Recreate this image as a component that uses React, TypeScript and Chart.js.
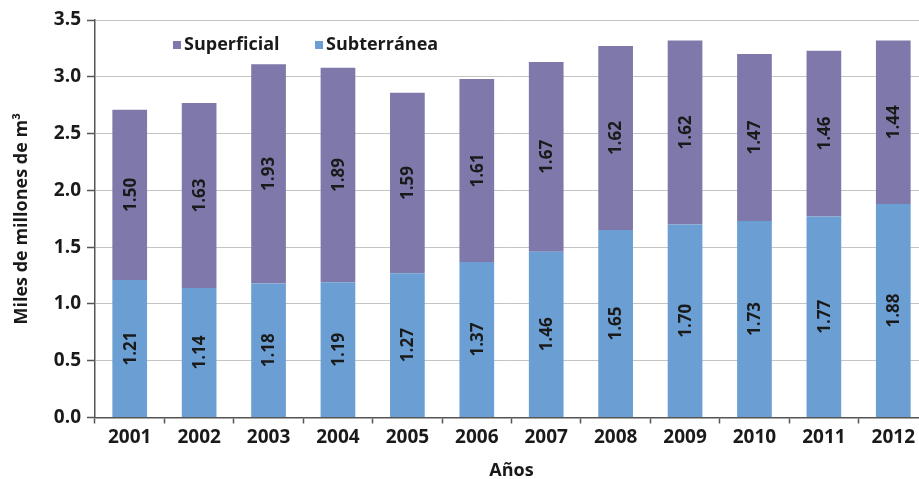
import React, { useEffect, useRef } from "react";
import { Chart, registerables } from "chart.js";

Chart.register(...registerables);

const years = ["2001", "2002", "2003", "2004", "2005", "2006", "2007", "2008", "2009", "2010", "2011", "2012"];
const subterranea = [1.21, 1.14, 1.18, 1.19, 1.27, 1.37, 1.46, 1.65, 1.7, 1.73, 1.77, 1.88];
const superficial = [1.5, 1.63, 1.93, 1.89, 1.59, 1.61, 1.67, 1.62, 1.62, 1.47, 1.46, 1.44];
const seriesNames = ["Subterránea", "Superficial"];
const yTitle = "Miles de millones de m³";
const xTitle = "Años";

const BLUE = "#6b9fd3";
const PURPLE = "#7e79aa";
const FONT = "'Open Sans', 'Noto Sans', sans-serif";
const TEXT = "#1a1a1a";
const AXIS = "#555555";

const dataLabelsPlugin = {
  id: "dataLabels",
  afterDatasetsDraw(chart: any) {
    const ctx = chart.ctx;
    ctx.save();
    ctx.font = `bold 17px ${FONT}`;
    ctx.fillStyle = TEXT;
    ctx.textAlign = "center";
    ctx.textBaseline = "middle";
    chart.data.datasets.forEach((ds: any, di: number) => {
      const meta = chart.getDatasetMeta(di);
      meta.data.forEach((bar: any, i: number) => {
        const cy = (bar.y + bar.base) / 2;
        ctx.save();
        ctx.translate(bar.x, cy);
        ctx.rotate(-Math.PI / 2);
        ctx.fillText(Number(ds.data[i]).toFixed(2), 0, 1);
        ctx.restore();
      });
    });
    ctx.restore();
  },
};

const legendPlugin = {
  id: "customLegend",
  afterDraw(chart: any) {
    const ctx = chart.ctx;
    const area = chart.chartArea;
    const items = [...chart.data.datasets].reverse();
    ctx.save();
    ctx.font = `bold 18px ${FONT}`;
    ctx.textBaseline = "middle";
    ctx.textAlign = "left";
    let x = area.left + 78;
    const y = area.top + 25;
    items.forEach((ds: any) => {
      ctx.fillStyle = ds.backgroundColor;
      ctx.fillRect(x, y - 4, 8, 8);
      ctx.fillStyle = TEXT;
      ctx.fillText(ds.label, x + 11, y);
      x += 142;
    });
    ctx.restore();
  },
};

export default function App() {
  const ref = useRef<HTMLCanvasElement>(null);
  useEffect(() => {
    document.body.style.overflow = "hidden";
    const chart = new Chart(ref.current as HTMLCanvasElement, {
      type: "bar",
      data: {
        labels: years,
        datasets: [
          { label: seriesNames[0], data: subterranea, backgroundColor: BLUE, barPercentage: 0.5, categoryPercentage: 1 },
          { label: seriesNames[1], data: superficial, backgroundColor: PURPLE, barPercentage: 0.5, categoryPercentage: 1 },
        ],
      },
      options: {
        responsive: false,
        animation: false,
        layout: { padding: { top: 20, left: 0, right: 0, bottom: 0 } },
        plugins: { legend: { display: false }, tooltip: { enabled: false } },
        scales: {
          x: {
            stacked: true,
            afterFit(scale: any) { scale.height = 61.5; },
            grid: { offset: true, drawOnChartArea: false, tickLength: 6, tickColor: AXIS, tickWidth: 1.5 },
            border: { color: AXIS, width: 1.5 },
            ticks: { color: TEXT, padding: 3, font: { family: FONT, size: 19, weight: "bold" } },
            title: { display: true, text: xTitle, color: TEXT, padding: { top: 0, bottom: 0 }, font: { family: FONT, size: 18, weight: "bold", lineHeight: 0.9 } },
          },
          y: {
            stacked: true,
            min: 0,
            max: 3.5,
            afterFit(scale: any) { scale.width = 95; },
            grid: { color: "#c4c4c4", lineWidth: 1, tickLength: 8, tickColor: AXIS, tickWidth: 1.5 },
            border: { color: AXIS, width: 1.5 },
            ticks: { stepSize: 0.5, color: TEXT, padding: 6, font: { family: FONT, size: 19, weight: "bold" }, callback: (v: any) => Number(v).toFixed(1) },
            title: { display: true, text: yTitle, color: TEXT, padding: { top: 11, bottom: 0 }, font: { family: FONT, size: 18, weight: "bold" } },
          },
        },
      },
      plugins: [dataLabelsPlugin, legendPlugin],
    });
    return () => chart.destroy();
  }, []);
  return (
    <div style={{ position: "absolute", left: 0, top: 0, width: 928, height: 479, background: "#fff" }}>
      <canvas ref={ref} width={928} height={479} style={{ display: "block" }} />
    </div>
  );
}
